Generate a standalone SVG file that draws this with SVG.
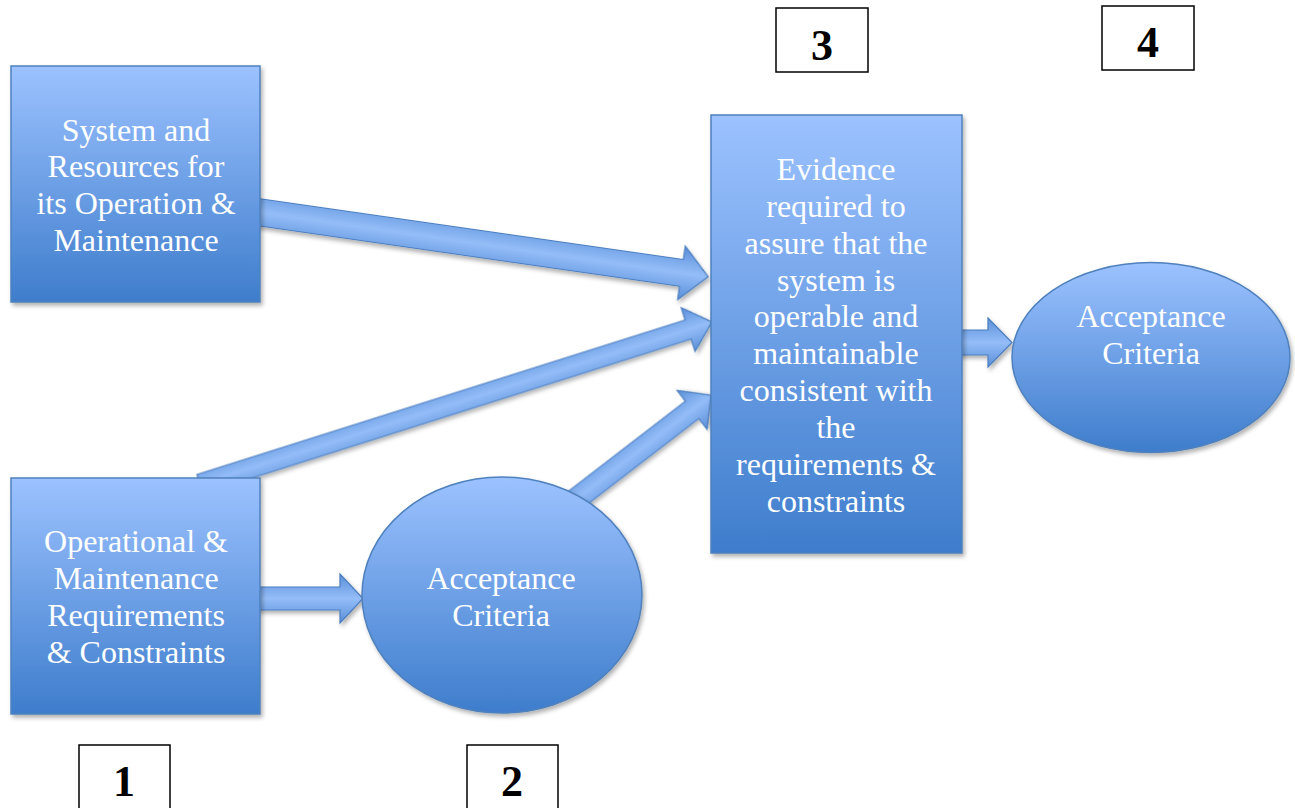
<svg xmlns="http://www.w3.org/2000/svg" width="1295" height="808" viewBox="0 0 1295 808">
<defs>
<linearGradient id="g" x1="0" y1="0" x2="0" y2="1">
<stop offset="0" stop-color="#9cc2ff"/>
<stop offset="1" stop-color="#3e7dcc"/>
</linearGradient>
<linearGradient id="ga" x1="0" y1="0" x2="0" y2="1">
<stop offset="0" stop-color="#5a8fd8"/>
<stop offset="0.5" stop-color="#94bdf8"/>
<stop offset="1" stop-color="#5a8fd8"/>
</linearGradient>
<filter id="sh" x="-10%" y="-10%" width="130%" height="130%">
<feDropShadow dx="2" dy="3" stdDeviation="2" flood-color="#000" flood-opacity="0.3"/>
</filter>
</defs>
<style>
.n{fill:url(#g);stroke:#4f81bd;stroke-width:1.5;filter:url(#sh)}
.a{fill:url(#ga);stroke:#4a7ebf;stroke-width:1.2;filter:url(#sh)}
.t{font-family:"Liberation Serif","Times New Roman",serif;font-size:32px;fill:#fff;text-anchor:middle}
.nb{fill:#fff;stroke:#000;stroke-width:1.5}
.nt{font-family:"Liberation Serif","Times New Roman",serif;font-size:44px;font-weight:bold;fill:#000;text-anchor:middle}
</style>
<g id="connectors">
<path class="a" transform="translate(240,209.5) rotate(8.17)" d="M0,-13.5 H446 V-27 L473,0 L446,27 V13.5 H0 Z"/>
<path class="a" transform="translate(200,484) rotate(-17.56)" d="M0,-10 H512 V-23 L537,0 L512,23 V10 H0 Z"/>
<path class="a" transform="translate(540,527) rotate(-37.6)" d="M0,-11 H192 V-24.5 L216,0 L192,24.5 V11 H0 Z"/>
<path class="a" d="M250,587 H340 V574 L363,598.5 L340,623 V610 H250 Z"/>
<path class="a" d="M950,330 H988 V318 L1012,342.5 L988,367 V355 H950 Z"/>
</g>
<g id="node1">
<rect class="n" x="11" y="66" width="249" height="236"/>
<text class="t" x="136" y="141">System and</text>
<text class="t" x="136" y="177">Resources for</text>
<text class="t" x="136" y="214">its Operation &amp;</text>
<text class="t" x="136" y="251">Maintenance</text>
</g>
<g id="node2">
<rect class="n" x="11" y="478" width="249" height="236"/>
<text class="t" x="136" y="552">Operational &amp;</text>
<text class="t" x="136" y="589">Maintenance</text>
<text class="t" x="136" y="626">Requirements</text>
<text class="t" x="136" y="663">&amp; Constraints</text>
</g>
<g id="node-ac1">
<ellipse class="n" cx="502" cy="595" rx="140" ry="118"/>
<text class="t" x="501" y="589">Acceptance</text>
<text class="t" x="501" y="626">Criteria</text>
</g>
<g id="node3">
<rect class="n" x="711" y="115" width="251" height="438"/>
<text class="t" x="836" y="180">Evidence</text>
<text class="t" x="836" y="217">required to</text>
<text class="t" x="836" y="254">assure that the</text>
<text class="t" x="836" y="291">system is</text>
<text class="t" x="836" y="327">operable and</text>
<text class="t" x="836" y="364">maintainable</text>
<text class="t" x="836" y="401">consistent with</text>
<text class="t" x="836" y="438">the</text>
<text class="t" x="836" y="475">requirements &amp;</text>
<text class="t" x="836" y="512">constraints</text>
</g>
<g id="node-ac2">
<ellipse class="n" cx="1151" cy="357.5" rx="139" ry="95"/>
<text class="t" x="1151" y="327">Acceptance</text>
<text class="t" x="1151" y="364">Criteria</text>
</g>
<g id="label1">
<rect class="nb" x="79" y="745" width="91" height="70"/>
<text class="nt" x="124" y="796">1</text>
</g>
<g id="label2">
<rect class="nb" x="467" y="745" width="91" height="70"/>
<text class="nt" x="512" y="796">2</text>
</g>
<g id="label3">
<rect class="nb" x="776" y="8" width="92" height="64"/>
<text class="nt" x="822" y="60">3</text>
</g>
<g id="label4">
<rect class="nb" x="1102" y="6" width="92" height="64"/>
<text class="nt" x="1148" y="57">4</text>
</g>
</svg>
